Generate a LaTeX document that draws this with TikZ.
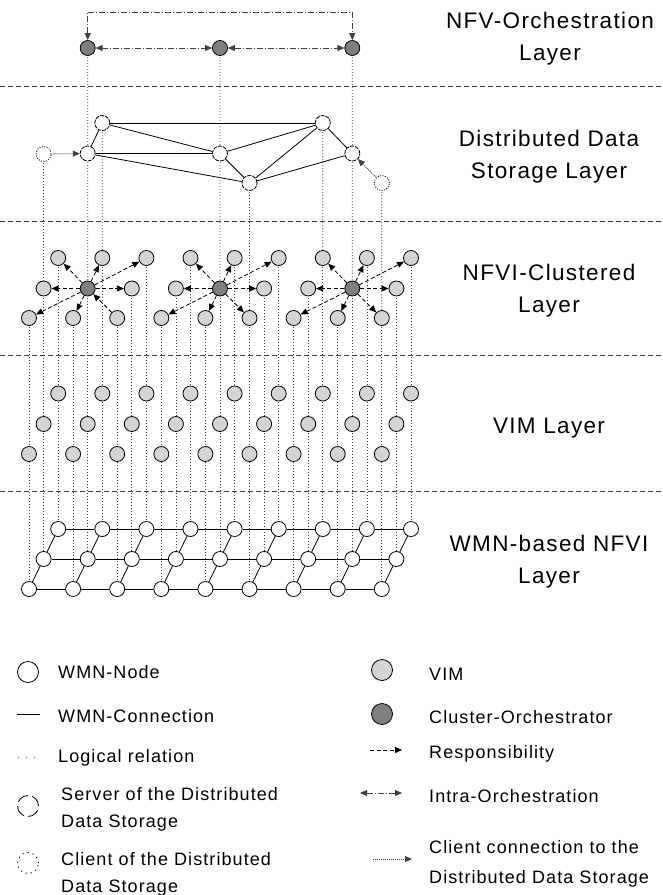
\documentclass[tikz,border=0pt]{standalone}
\usepackage{fontspec}
\setmainfont{Liberation Sans}
\newfontfamily\lblfont[LetterSpace=6]{Liberation Sans}
\usetikzlibrary{arrows.meta}
\definecolor{vimfill}{HTML}{D4D4D4}
\definecolor{orchfill}{HTML}{7F7F7F}
\pgfdeclarelayer{bg}
\pgfsetlayers{bg,main}
\begin{document}
\begin{tikzpicture}[x=1pt,y=-1pt,
  wmn/.style={circle,draw,fill=white,minimum size=15pt,inner sep=0pt,line width=0.8pt},
  vim/.style={wmn,fill=vimfill},
  orch/.style={wmn,fill=orchfill},
  server/.style={wmn,dash pattern=on 4pt off 1pt},
  client/.style={wmn,dash pattern=on 1pt off 1.5pt},
  logic/.style={draw=black!75,line width=0.7pt,dash pattern=on 1pt off 2pt},
  link/.style={draw,line width=0.8pt},
  resp/.style={draw,line width=0.8pt,dash pattern=on 4pt off 2.5pt,-{Triangle[length=7pt,width=6pt]}},
  intra/.style={draw=black!75,line width=0.8pt,dash pattern=on 6pt off 2pt on 1pt off 2pt,{Triangle[length=7pt,width=6pt]}-{Triangle[length=7pt,width=6pt]}},
  clink/.style={draw=black!75,line width=0.8pt,dash pattern=on 1pt off 1pt,-{Triangle[length=7pt,width=6pt]}},
  sep/.style={draw=black!75,line width=0.8pt,dash pattern=on 5pt off 3pt},
  layerlbl/.style={font=\lblfont\fontsize{22.5}{32}\selectfont,align=center,inner sep=0pt},
  legtxt/.style={font=\lblfont\fontsize{18}{27}\selectfont,inner sep=0pt,align=left},
  legsym/.style={minimum size=21pt},
]
\useasboundingbox (0,0) rectangle (662,895);

% layer separators
\foreach \yy in {86,221,355.5,491} \draw[sep] (0,\yy) -- (662,\yy);

% layer labels
\node[layerlbl] (lbl1) at (550,39) {NFV-Orchestration\\Layer};
\node[layerlbl] (lbl2) at (549,157) {Distributed Data\\Storage Layer};
\node[layerlbl] (lbl3) at (549,290.5) {NFVI-Clustered\\Layer};
\node[layerlbl,anchor=base] (lbl4) at (549,433) {VIM Layer};
\node[layerlbl] (lbl5) at (549,562) {WMN-based NFVI\\Layer};

% grid nodes: NFVI-clustered (c), VIM (v), WMN (w)
\foreach \r/\yc/\yv/\yw in {1/258/393.5/529, 2/288.5/424/559, 3/318/454/589} {
  \foreach \j in {1,...,9} {
    \pgfmathsetmacro\xx{29+14.6*(3-\r)+44.1*(\j-1)}
    \pgfmathtruncatemacro\isorch{((\r==2)&&(mod(\j,3)==2))?1:0}
    \ifnum\isorch=1
      \node[orch] (c-\r-\j) at (\xx,\yc) {};
    \else
      \node[vim] (c-\r-\j) at (\xx,\yc) {};
    \fi
    \node[vim] (v-\r-\j) at (\xx,\yv) {};
    \node[wmn] (w-\r-\j) at (\xx,\yw) {};
  }
}

% WMN connections
\foreach \r in {1,2,3} {
  \foreach \j [evaluate=\j as \k using int(\j+1)] in {1,...,8} {
    \draw[link] (w-\r-\j) -- (w-\r-\k);
  }
}
\foreach \j in {1,...,9} {
  \draw[link] (w-1-\j) -- (w-2-\j);
  \draw[link] (w-2-\j) -- (w-3-\j);
}

% NFV orchestration layer
\node[orch] (t1) at (87.7,48) {};
\node[orch] (t2) at (220,48) {};
\node[orch] (t3) at (352.3,48) {};
\coordinate (topbar) at (0,12);
\draw[intra] (t1) -- (t2);
\draw[intra] (t2) -- (t3);
\draw[intra] (t1.north) -- (t1.north |- topbar) -- (t3.north |- topbar) -- (t3.north);

% distributed data storage layer
\node[server] (sA) at (102.3,123) {};
\node[server] (sB) at (87.7,153.5) {};
\node[server] (sC) at (220,153.5) {};
\node[server] (sD) at (249.5,183) {};
\node[server] (sE) at (322.8,123) {};
\node[server] (sF) at (352.3,153.5) {};
\node[client] (clL) at (43.6,154) {};
\node[client] (clR) at (381.8,183) {};
\draw[link] (sA) -- (sE);
\draw[link] (sA) -- (sB);
\draw[link] (sA) -- (sC);
\draw[link] (sB) -- (sC);
\draw[link] (sB) -- (sD);
\draw[link] (sC) -- (sD);
\draw[link] (sC) -- (sE);
\draw[link] (sD) -- (sE);
\draw[link] (sE) -- (sF);
\draw[link] (sD) -- (sF);
\draw[clink] (clL) -- (sB);
\draw[clink] (clR) -- (sF);

% cluster responsibilities
\foreach \m [evaluate=\m as \a using int(\m-1), evaluate=\m as \b using int(\m+1)] in {2,5,8} {
  \draw[resp] (c-2-\m) -- (c-1-\a);
  \draw[resp] (c-2-\m) -- (c-1-\m);
  \draw[resp] (c-2-\m) -- (c-1-\b);
  \draw[resp] (c-2-\m) -- (c-2-\a);
  \draw[resp] (c-2-\m) -- (c-2-\b);
  \draw[resp] (c-2-\m) -- (c-3-\a);
  \draw[resp] (c-2-\m) -- (c-3-\m);
}
\draw[resp] (c-3-3) -- (c-2-2);
\draw[resp] (c-2-5) -- (c-3-6);
\draw[resp] (c-2-8) -- (c-3-9);

% logical relations (behind nodes)
\begin{pgfonlayer}{bg}
  \foreach \r in {1,2,3} {
    \foreach \j in {1,...,9} {
      \draw[logic] (c-\r-\j.center) -- (w-\r-\j.center);
    }
  }
  \draw[logic] (t1.center) -- (c-2-2.center);
  \draw[logic] (t2.center) -- (c-2-5.center);
  \draw[logic] (t3.center) -- (c-2-8.center);
  \draw[logic] (sA.center) -- (c-1-2.center);
  \draw[logic] (clL.center) -- (c-2-1.center);
  \draw[logic] (sD.center) -- (c-3-6.center);
  \draw[logic] (sE.center) -- (c-1-7.center);
  \draw[logic] (clR.center) -- (c-3-9.center);
\end{pgfonlayer}

% legend, left column
\node[wmn,legsym] (lgw) at (28,672) {};
\node[legtxt,anchor=base west] (lgwt) at (58,678) {WMN-Node};
\coordinate (lgc1) at (17,714);
\coordinate (lgc2) at (40,714);
\draw[link] (lgc1) -- (lgc2);
\node[legtxt,anchor=base west] (lgct) at (58,722) {WMN-Connection};
\coordinate (lgl1) at (18,757);
\coordinate (lgl2) at (40,757);
\draw[draw=black!65,line width=0.8pt,dash pattern=on 1pt off 7pt] (lgl1) -- (lgl2);
\node[legtxt,anchor=base west] (lglt) at (58,762) {Logical relation};
\node[server,legsym,dash pattern=on 12pt off 4.5pt] (lgs) at (28,806) {};
\node[legtxt,anchor=west] (lgst) at (61,809) {Server of the Distributed\\Data Storage};
\node[client,legsym,dash pattern=on 1.2pt off 4pt] (lgk) at (28,863) {};
\node[legtxt,anchor=west] (lgkt) at (61,874) {Client of the Distributed\\Data Storage};

% legend, right column
\node[vim,legsym] (lgv) at (382,670) {};
\node[legtxt,anchor=base west] (lgvt) at (429,680) {VIM};
\node[orch,legsym] (lgo) at (382,714) {};
\node[legtxt,anchor=base west] (lgot) at (429,723) {Cluster-Orchestrator};
\coordinate (lgr1) at (370,750);
\coordinate (lgr2) at (402,750);
\draw[resp] (lgr1) -- (lgr2);
\node[legtxt,anchor=base west] (lgrt) at (429,758) {Responsibility};
\coordinate (lgi1) at (360,793);
\coordinate (lgi2) at (402,793);
\draw[intra] (lgi1) -- (lgi2);
\node[legtxt,anchor=base west] (lgit) at (429,802) {Intra-Orchestration};
\coordinate (lgq1) at (373,859);
\coordinate (lgq2) at (412,859);
\draw[clink] (lgq1) -- (lgq2);
\node[legtxt,anchor=west,font=\lblfont\fontsize{18}{30}\selectfont] (lgqt) at (429,863.6) {Client connection to the\\Distributed Data Storage};
\end{tikzpicture}
\end{document}
